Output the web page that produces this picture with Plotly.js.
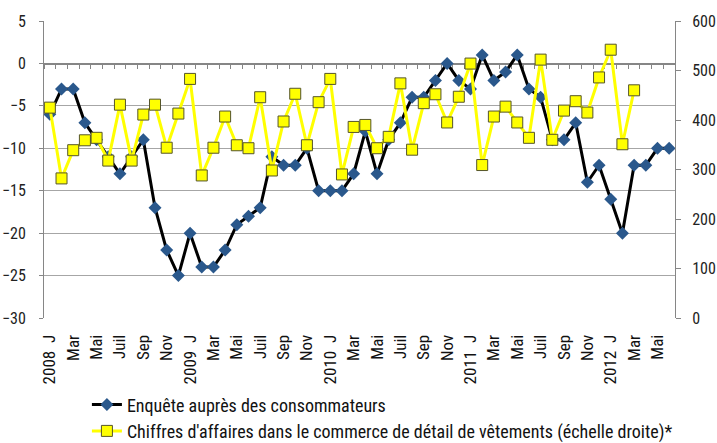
<!DOCTYPE html>
<html>
<head>
<meta charset="utf-8">
<script src="https://cdn.plot.ly/plotly-3.0.1.min.js"></script>
<style>html,body{margin:0;padding:0;background:#fff;}#chart{width:717px;height:443px;}</style>
</head>
<body>
<div id="chart"></div>
<script>
// Months: Jan 2008 .. Jun 2012
const startYear = 2008;
const nMonths = 54;
const monthCodes = ["01","02","03","04","05","06","07","08","09","10","11","12"];

// Tick labels (every two months)
const tickLabels = [
  "2008 \u00a0J","Mar","Mai","Juil","Sep","Nov",
  "2009 \u00a0J","Mar","Mai","Juil","Sep","Nov",
  "2010 \u00a0J","Mar","Mai","Juil","Sep","Nov",
  "2011 \u00a0J","Mar","Mai","Juil","Sep","Nov",
  "2012 \u00a0J","Mar","Mai"
];

// Enquête auprès des consommateurs (left axis)
const consumerSurvey = [
  -6,-3,-3,-7,-9,-11,-13,-11,-9,-17,-22,-25,
  -20,-24,-24,-22,-19,-18,-17,-11,-12,-12,-10,-15,
  -15,-15,-13,-8,-13,-9,-7,-4,-4,-2,0,-2,
  -3,1,-2,-1,1,-3,-4,-9,-9,-7,-14,-12,
  -16,-20,-12,-12,-10,-10
];

// Chiffres d'affaires commerce de détail de vêtements (right axis)
const clothingTurnover = [
  425,282,339,359,364,318,431,318,411,431,344,413,
  483,288,344,407,349,343,446,298,397,453,349,436,
  483,290,386,390,343,366,474,340,434,452,395,447,
  514,309,407,427,395,364,522,360,419,438,415,486,
  542,351,460,null,null,null
];

const months = [];
for (let i = 0; i < nMonths; i++) {
  months.push((startYear + Math.floor(i / 12)) + "-" + monthCodes[i % 12]);
}
const tickVals = months.filter((m, i) => i % 2 === 0);

const narrow = "'Roboto Condensed', 'Liberation Sans Narrow', Roboto, sans-serif";

const traces = [
  {
    x: months, y: consumerSurvey, xaxis: 'x2', yaxis: 'y',
    mode: 'lines', line: {width: 0, color: 'rgba(0,0,0,0)'},
    opacity: 0, showlegend: false, hoverinfo: 'skip'
  },
  {
    name: "Enquête auprès des consommateurs",
    legendgroup: 'a',
    x: months, y: consumerSurvey, xaxis: 'x', yaxis: 'y',
    mode: 'lines+markers',
    line: {color: '#000000', width: 3},
    marker: {symbol: 'diamond', size: 10, color: '#2a588c', line: {width: 0}}
  },
  {
    name: "Chiffres d'affaires dans le commerce de détail de vêtements (échelle droite)*",
    legendgroup: 'b',
    x: months, y: clothingTurnover, xaxis: 'x', yaxis: 'y2',
    mode: 'lines+markers', connectgaps: false,
    line: {color: '#ffff00', width: 3},
    marker: {symbol: 'square', size: 11, color: '#ffff00', line: {width: 1, color: '#55552a'}}
  }
];

const layout = {
  width: 717, height: 443,
  margin: {l: 44, r: 42, t: 21, b: 125, autoexpand: false},
  paper_bgcolor: '#ffffff', plot_bgcolor: '#ffffff',
  font: {family: narrow, size: 18, color: '#000000'},
  showlegend: true,
  legend: {
    x: 0.068, y: 0.128, xanchor: 'left', yanchor: 'top', yref: 'container',
    font: {family: narrow, size: 18, color: '#111111'},
    traceorder: 'grouped', tracegroupgap: 0,
    itemwidth: 30, bgcolor: 'rgba(0,0,0,0)'
  },
  xaxis: {
    type: 'category', categoryorder: 'array', categoryarray: months,
    range: [-0.5, nMonths - 0.5],
    tickmode: 'array', tickvals: tickVals, ticktext: tickLabels,
    tickangle: -90, ticks: 'outside', ticklen: 9, tickcolor: 'rgba(0,0,0,0)',
    tickfont: {family: narrow, size: 17, color: '#111111'},
    showgrid: false, showline: false, zeroline: false, automargin: false
  },
  xaxis2: {
    type: 'category', categoryorder: 'array', categoryarray: months,
    range: [-0.5, nMonths - 0.5],
    overlaying: 'x', anchor: 'free', position: 30 / 35, side: 'bottom',
    tickmode: 'linear', tick0: 0, dtick: 1, tickson: 'boundaries',
    ticks: 'outside', ticklen: 4, tickcolor: '#868686', tickwidth: 1,
    showticklabels: false, showgrid: false, zeroline: false,
    showline: true, linecolor: '#868686', linewidth: 1.5, layer: 'below traces'
  },
  yaxis: {
    range: [-30, 5], dtick: 5, tick0: 0,
    showgrid: true, gridcolor: '#a6a6a6', gridwidth: 1,
    showline: true, linecolor: '#868686', linewidth: 1,
    ticks: 'outside', ticklen: 4, tickcolor: '#868686',
    ticklabelstandoff: 10, zeroline: false, automargin: false,
    tickfont: {family: narrow, size: 16, color: '#222222'}
  },
  yaxis2: {
    range: [0, 600], dtick: 100, overlaying: 'y', side: 'right',
    showgrid: false, showline: true, linecolor: '#868686', linewidth: 1,
    ticks: 'outside', ticklen: 5, tickcolor: '#868686',
    ticklabelstandoff: 8, zeroline: false, automargin: false,
    tickfont: {family: narrow, size: 16, color: '#222222'}
  }
};

Plotly.newPlot('chart', traces, layout, {displayModeBar: false, staticPlot: true});
</script>
</body>
</html>
